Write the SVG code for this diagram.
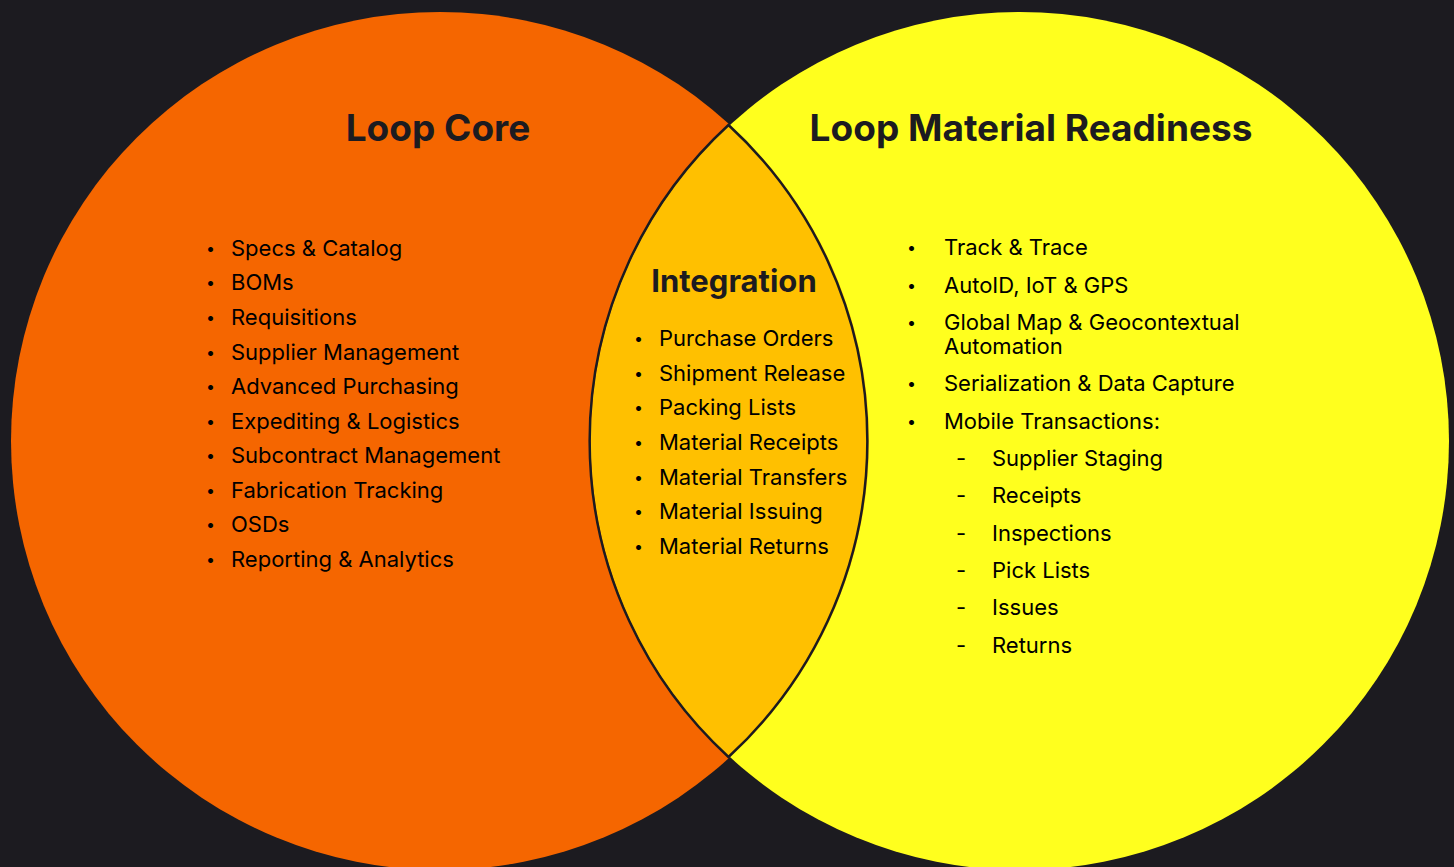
<svg xmlns="http://www.w3.org/2000/svg" width="1454" height="867" viewBox="0 0 1454 867">
<style>
.t{font-family:Inter,"Liberation Sans",sans-serif;font-size:22px;fill:#000}
.b{font-size:16px}
.h{font-family:Inter,"Liberation Sans",sans-serif;font-weight:700;fill:#1c1b20}
</style>
<defs>
<clipPath id="cl"><circle cx="440" cy="441" r="429"/></clipPath>
</defs>
<rect width="1454" height="867" fill="#1c1b20"/>
<g id="core">
<circle cx="440" cy="441" r="429" fill="#f56600"/>
</g>
<g id="readiness">
<circle cx="1020" cy="441" r="429" fill="#ffff1e"/>
</g>
<g id="integration">
<circle cx="1020" cy="441" r="429" fill="#ffc000" clip-path="url(#cl)"/>
<path d="M728.5,125 A429,429 0 0 0 728.5,757 A429,429 0 0 0 728.5,125 Z" fill="none" stroke="#1c1b20" stroke-width="2.5"/>
</g>
<g id="core-text">
<text class="h" x="438" y="141" font-size="37" text-anchor="middle">Loop Core</text>
<g class="t">
<text class="b" x="206" y="254">•</text><text x="231" y="256">Specs &amp; Catalog</text>
<text class="b" x="206" y="288">•</text><text x="231" y="290">BOMs</text>
<text class="b" x="206" y="323">•</text><text x="231" y="325">Requisitions</text>
<text class="b" x="206" y="358">•</text><text x="231" y="360">Supplier Management</text>
<text class="b" x="206" y="392">•</text><text x="231" y="394">Advanced Purchasing</text>
<text class="b" x="206" y="427">•</text><text x="231" y="429">Expediting &amp; Logistics</text>
<text class="b" x="206" y="461">•</text><text x="231" y="463">Subcontract Management</text>
<text class="b" x="206" y="496">•</text><text x="231" y="498">Fabrication Tracking</text>
<text class="b" x="206" y="530">•</text><text x="231" y="532">OSDs</text>
<text class="b" x="206" y="565">•</text><text x="231" y="567">Reporting &amp; Analytics</text>
</g>
</g>
<g id="integration-text">
<text class="h" x="734" y="292" font-size="31" text-anchor="middle">Integration</text>
<g class="t">
<text class="b" x="634" y="344">•</text><text x="659" y="346">Purchase Orders</text>
<text class="b" x="634" y="379">•</text><text x="659" y="381">Shipment Release</text>
<text class="b" x="634" y="413">•</text><text x="659" y="415">Packing Lists</text>
<text class="b" x="634" y="448">•</text><text x="659" y="450">Material Receipts</text>
<text class="b" x="634" y="483">•</text><text x="659" y="485">Material Transfers</text>
<text class="b" x="634" y="517">•</text><text x="659" y="519">Material Issuing</text>
<text class="b" x="634" y="552">•</text><text x="659" y="554">Material Returns</text>
</g>
</g>
<g id="readiness-text">
<text class="h" x="1031" y="141" font-size="37" text-anchor="middle">Loop Material Readiness</text>
<g class="t">
<text class="b" x="907" y="253">•</text><text x="944" y="255">Track &amp; Trace</text>
<text class="b" x="907" y="291">•</text><text x="944" y="293">AutoID, IoT &amp; GPS</text>
<text class="b" x="907" y="328">•</text><text x="944" y="330">Global Map &amp; Geocontextual</text>
<text x="944" y="354">Automation</text>
<text class="b" x="907" y="389">•</text><text x="944" y="391">Serialization &amp; Data Capture</text>
<text class="b" x="907" y="427">•</text><text x="944" y="429">Mobile Transactions:</text>
<text x="956" y="466">-</text><text x="992" y="466">Supplier Staging</text>
<text x="956" y="503">-</text><text x="992" y="503">Receipts</text>
<text x="956" y="541">-</text><text x="992" y="541">Inspections</text>
<text x="956" y="578">-</text><text x="992" y="578">Pick Lists</text>
<text x="956" y="615">-</text><text x="992" y="615">Issues</text>
<text x="956" y="653">-</text><text x="992" y="653">Returns</text>
</g>
</g>
</svg>
